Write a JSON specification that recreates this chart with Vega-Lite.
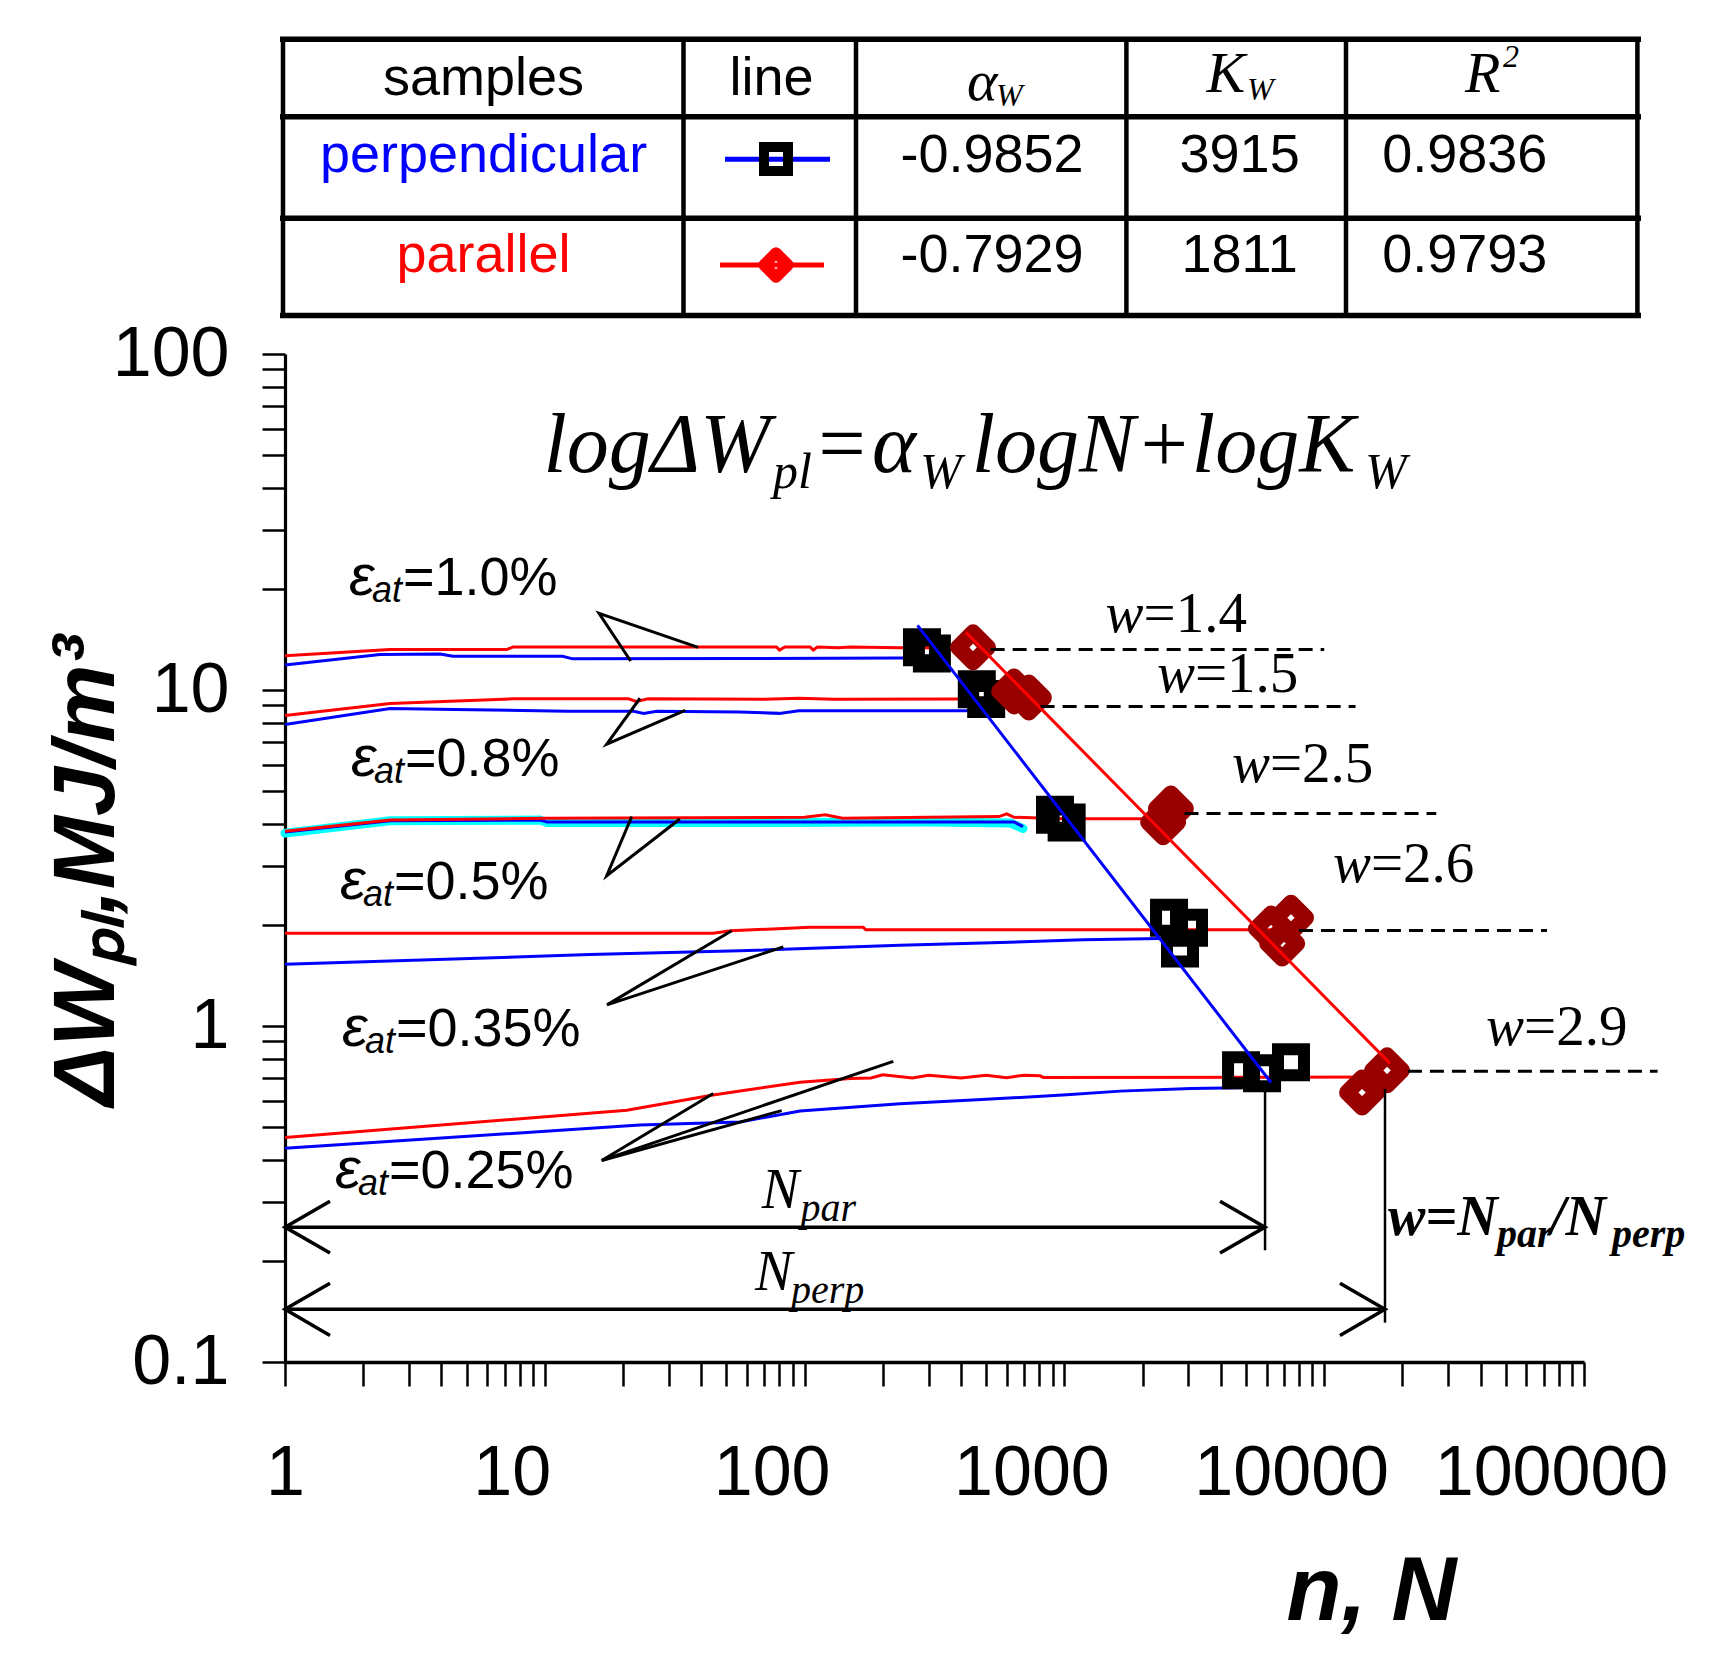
{
"$schema": "https://vega.github.io/schema/vega-lite/v6.json",
"width": 1299,
"height": 1008,
"autosize": {"type": "none"},
"padding": {"left": 285, "top": 354, "right": 129, "bottom": 291},
"background": "white",
"config": {"view": {"stroke": null}},
"datasets": {
"curves": [
{"id":"r10","s":"par","n":1,"W":12.64},{"id":"r10","s":"par","n":2.54,"W":13.19},{"id":"r10","s":"par","n":7.13,"W":13.19},{"id":"r10","s":"par","n":7.55,"W":13.43},{"id":"r10","s":"par","n":78,"W":13.43},{"id":"r10","s":"par","n":80,"W":13.15},{"id":"r10","s":"par","n":84,"W":13.43},{"id":"r10","s":"par","n":105,"W":13.43},{"id":"r10","s":"par","n":108,"W":13.15},{"id":"r10","s":"par","n":112,"W":13.43},{"id":"r10","s":"par","n":135,"W":13.35},{"id":"r10","s":"par","n":150,"W":13.43},{"id":"r10","s":"par","n":233,"W":13.36},{"id":"r10","s":"par","n":430,"W":13.36},
{"id":"b10","s":"perp","n":1,"W":11.87},{"id":"b10","s":"perp","n":2.32,"W":12.75},{"id":"b10","s":"perp","n":3.95,"W":12.8},{"id":"b10","s":"perp","n":4.43,"W":12.6},{"id":"b10","s":"perp","n":11.7,"W":12.6},{"id":"b10","s":"perp","n":12.8,"W":12.38},{"id":"b10","s":"perp","n":56,"W":12.4},{"id":"b10","s":"perp","n":233,"W":12.45},{"id":"b10","s":"perp","n":275,"W":12.45},
{"id":"r08","s":"par","n":1,"W":8.4},{"id":"r08","s":"par","n":2.54,"W":9.12},{"id":"r08","s":"par","n":7.55,"W":9.41},{"id":"r08","s":"par","n":21,"W":9.41},{"id":"r08","s":"par","n":22.5,"W":9.25},{"id":"r08","s":"par","n":25,"W":9.41},{"id":"r08","s":"par","n":70,"W":9.38},{"id":"r08","s":"par","n":95,"W":9.45},{"id":"r08","s":"par","n":130,"W":9.38},{"id":"r08","s":"par","n":386,"W":9.4},{"id":"r08","s":"par","n":650,"W":9.4},
{"id":"b08","s":"perp","n":1,"W":7.89},{"id":"b08","s":"perp","n":2.54,"W":8.81},{"id":"b08","s":"perp","n":4.5,"W":8.75},{"id":"b08","s":"perp","n":12.2,"W":8.65},{"id":"b08","s":"perp","n":22,"W":8.65},{"id":"b08","s":"perp","n":24,"W":8.52},{"id":"b08","s":"perp","n":27,"W":8.65},{"id":"b08","s":"perp","n":56,"W":8.6},{"id":"b08","s":"perp","n":80,"W":8.52},{"id":"b08","s":"perp","n":95,"W":8.68},{"id":"b08","s":"perp","n":407,"W":8.68},{"id":"b08","s":"perp","n":460,"W":8.68},
{"id":"c05","s":"cyan","n":1,"W":3.75},{"id":"c05","s":"cyan","n":2.54,"W":4.08},{"id":"c05","s":"cyan","n":9.58,"W":4.1},{"id":"c05","s":"cyan","n":10.2,"W":4.03},{"id":"c05","s":"cyan","n":56,"W":4.03},{"id":"c05","s":"cyan","n":300,"W":4.05},{"id":"c05","s":"cyan","n":620,"W":4.02},{"id":"c05","s":"cyan","n":693,"W":3.87},
{"id":"b05","s":"perp","n":1,"W":3.78},{"id":"b05","s":"perp","n":2.54,"W":4.08},{"id":"b05","s":"perp","n":9.58,"W":4.1},{"id":"b05","s":"perp","n":10.2,"W":4.05},{"id":"b05","s":"perp","n":640,"W":4.05},{"id":"b05","s":"perp","n":693,"W":3.92},
{"id":"r05","s":"par","n":1,"W":3.8},{"id":"r05","s":"par","n":2.54,"W":4.1},{"id":"r05","s":"par","n":10,"W":4.15},{"id":"r05","s":"par","n":100,"W":4.18},{"id":"r05","s":"par","n":120,"W":4.25},{"id":"r05","s":"par","n":140,"W":4.15},{"id":"r05","s":"par","n":300,"W":4.18},{"id":"r05","s":"par","n":560,"W":4.2},{"id":"r05","s":"par","n":600,"W":4.28},{"id":"r05","s":"par","n":640,"W":4.18},{"id":"r05","s":"par","n":1000,"W":4.14},{"id":"r05","s":"par","n":2450,"W":4.14},
{"id":"r035","s":"par","n":1,"W":1.887},{"id":"r035","s":"par","n":44.4,"W":1.887},{"id":"r035","s":"par","n":52,"W":1.92},{"id":"r035","s":"par","n":105,"W":1.966},{"id":"r035","s":"par","n":168,"W":1.966},{"id":"r035","s":"par","n":172,"W":1.935},{"id":"r035","s":"par","n":6300,"W":1.935},
{"id":"b035","s":"perp","n":1,"W":1.527},{"id":"b035","s":"perp","n":14.9,"W":1.631},{"id":"b035","s":"perp","n":56.4,"W":1.675},{"id":"b035","s":"perp","n":233,"W":1.738},{"id":"b035","s":"perp","n":526,"W":1.769},{"id":"b035","s":"perp","n":1180,"W":1.806},{"id":"b035","s":"perp","n":2350,"W":1.82},
{"id":"r025","s":"par","n":1,"W":0.466},{"id":"r025","s":"par","n":20.7,"W":0.561},{"id":"r025","s":"par","n":44.4,"W":0.623},{"id":"r025","s":"par","n":96,"W":0.68},{"id":"r025","s":"par","n":150,"W":0.698},{"id":"r025","s":"par","n":180,"W":0.7},{"id":"r025","s":"par","n":200,"W":0.716},{"id":"r025","s":"par","n":260,"W":0.7},{"id":"r025","s":"par","n":300,"W":0.714},{"id":"r025","s":"par","n":400,"W":0.7},{"id":"r025","s":"par","n":500,"W":0.713},{"id":"r025","s":"par","n":600,"W":0.702},{"id":"r025","s":"par","n":700,"W":0.714},{"id":"r025","s":"par","n":805,"W":0.711},{"id":"r025","s":"par","n":830,"W":0.703},{"id":"r025","s":"par","n":17000,"W":0.705},
{"id":"b025","s":"perp","n":1,"W":0.433},{"id":"b025","s":"perp","n":23.2,"W":0.507},{"id":"b025","s":"perp","n":56.4,"W":0.518},{"id":"b025","s":"perp","n":96,"W":0.5585},{"id":"b025","s":"perp","n":233,"W":0.587},{"id":"b025","s":"perp","n":461,"W":0.603},{"id":"b025","s":"perp","n":1023,"W":0.624},{"id":"b025","s":"perp","n":1637,"W":0.64},{"id":"b025","s":"perp","n":3070,"W":0.652},{"id":"b025","s":"perp","n":4800,"W":0.655}
],
"pts": [
{"s":"perp","n":283,"W":13.4},{"s":"perp","n":309,"W":12.85},{"s":"perp","n":460,"W":10.05},{"s":"perp","n":500,"W":9.4},{"s":"perp","n":920,"W":4.25},{"s":"perp","n":1020,"W":4.03},{"s":"perp","n":2528,"W":2.1},{"s":"perp","n":3017,"W":1.96},{"s":"perp","n":2786,"W":1.7},{"s":"perp","n":4786,"W":0.738},{"s":"perp","n":5765,"W":0.723},{"s":"perp","n":7450,"W":0.78},
{"s":"par","n":445,"W":13.4},{"s":"par","n":640,"W":9.9},{"s":"par","n":730,"W":9.5},{"s":"par","n":2570,"W":4.44},{"s":"par","n":2399,"W":4.04},{"s":"par","n":7450,"W":2.1},{"s":"par","n":6240,"W":1.95},{"s":"par","n":6890,"W":1.76},{"s":"par","n":17460,"W":0.738},{"s":"par","n":13990,"W":0.634}
],
"fits": [
{"s":"perp","n":272,"W":15.57},{"s":"perp","n":6240,"W":0.679},
{"s":"par","n":418,"W":14.84},{"s":"par","n":17910,"W":0.774}
],
"wlines": [
{"n":520,"n2":10000,"W":13.2},{"n":810,"n2":13200,"W":8.93},{"n":2900,"n2":27000,"W":4.29},{"n":8000,"n2":72000,"W":1.925},{"n":21000,"n2":192000,"W":0.734}
],
"wlabels": [
{"t":"=1.4","n":1440,"W":14.9},{"t":"=1.5","n":2271,"W":9.84},{"t":"=2.5","n":4416,"W":5.31},{"t":"=2.6","n":10800,"W":2.68},{"t":"=2.9","n":42000,"W":0.88}
],
"leaders": [
{"id":"L10","o":1,"n":21.4,"W":12.2},{"id":"L10","o":2,"n":16.17,"W":16.9},{"id":"L10","o":3,"n":38.9,"W":13.39},
{"id":"L08","o":1,"n":23.25,"W":9.45},{"id":"L08","o":2,"n":17.31,"W":6.9},{"id":"L08","o":3,"n":34.7,"W":8.7},
{"id":"L05","o":1,"n":21.6,"W":4.2},{"id":"L05","o":2,"n":17.31,"W":2.8},{"id":"L05","o":3,"n":33.1,"W":4.13},
{"id":"L035","o":1,"n":52.4,"W":1.92},{"id":"L035","o":2,"n":17.35,"W":1.156},{"id":"L035","o":3,"n":82.8,"W":1.72},
{"id":"L025a","o":1,"n":44.5,"W":0.63},{"id":"L025a","o":2,"n":16.56,"W":0.398},{"id":"L025a","o":3,"n":81.6,"W":0.56},
{"id":"L025b","o":1,"n":16.56,"W":0.398},{"id":"L025b","o":2,"n":219.5,"W":0.785}
],
"arrows": [
{"id":"A1","o":1,"n":1,"W":0.252},{"id":"A1","o":2,"n":5920,"W":0.252},
{"id":"A2","o":1,"n":1.49,"W":0.301},{"id":"A2","o":2,"n":1,"W":0.252},{"id":"A2","o":3,"n":1.49,"W":0.211},
{"id":"A3","o":1,"n":3973,"W":0.301},{"id":"A3","o":2,"n":5920,"W":0.252},{"id":"A3","o":3,"n":3973,"W":0.211},
{"id":"B1","o":1,"n":1,"W":0.1435},{"id":"B1","o":2,"n":17140,"W":0.1435},
{"id":"B2","o":1,"n":1.49,"W":0.1715},{"id":"B2","o":2,"n":1,"W":0.1435},{"id":"B2","o":3,"n":1.49,"W":0.12},
{"id":"B3","o":1,"n":11500,"W":0.1715},{"id":"B3","o":2,"n":17140,"W":0.1435},{"id":"B3","o":3,"n":11500,"W":0.12}
],
"vguides": [
{"id":"V1","o":1,"n":5920,"W":0.66},{"id":"V1","o":2,"n":5920,"W":0.215},
{"id":"V2","o":1,"n":17140,"W":0.65},{"id":"V2","o":2,"n":17140,"W":0.131}
],
"eps": [
{"t":"=1.0%","n":1.763,"W":19.12},{"t":"=0.8%","n":1.795,"W":5.53},{"t":"=0.5%","n":1.628,"W":2.381},{"t":"=0.35%","n":1.657,"W":0.87},{"t":"=0.25%","n":1.557,"W":0.3287}
],
"formula": [
{"t":"logΔW","role":"main","n":9.885,"W":44.4},{"t":"pl","role":"sub","n":75.5,"W":44.4},{"t":"=","role":"main","n":107.7,"W":44.4},{"t":"α","role":"main","n":181.7,"W":44.4},{"t":"W","role":"sub","n":278,"W":44.4},{"t":"logN+logK","role":"main","n":440,"W":44.4},{"t":"W","role":"sub","n":14350,"W":44.4}
],
"nlab": [
{"t":"N","role":"main","n":68.4,"W":0.2865},{"t":"par","role":"sub","n":96.5,"W":0.2865},
{"t":"N","role":"main","n":64.4,"W":0.1633},{"t":"perp","role":"sub","n":88.6,"W":0.1633}
],
"wratio": [
{"t":"w=N","role":"main","n":17600,"W":0.238},{"t":"par","role":"sub","n":46240,"W":0.238},{"t":"/N","role":"main","n":73980,"W":0.238},{"t":"perp","role":"sub","n":128200,"W":0.238}
],
"thl": [
{"tx":0,"tx2":1361,"ty":2.3},{"tx":0,"tx2":1361,"ty":79.7},{"tx":0,"tx2":1361,"ty":181.3},{"tx":0,"tx2":1361,"ty":278.5}
],
"tvl": [
{"tx":3,"ty":0,"ty2":281},{"tx":403.5,"ty":0,"ty2":281},{"tx":576,"ty":0,"ty2":281},{"tx":846.4,"ty":0,"ty2":281},{"tx":1066,"ty":0,"ty2":281},{"tx":1357.4,"ty":0,"ty2":281}
],
"thead": [
{"t":"samples","tx":203.5,"ty":58},{"t":"line","tx":491.5,"ty":58}
],
"tsym": [
{"t":"α","role":"main","tx":687,"ty":63},{"t":"K","role":"main","tx":926.6,"ty":54.7},{"t":"R","role":"main","tx":1185,"ty":54.7},
{"t":"W","role":"sub","tx":716,"ty":69},{"t":"W","role":"sub","tx":967,"ty":63},
{"t":"2","role":"sup","tx":1223,"ty":29.7}
],
"tcells": [
{"t":"perpendicular","s":"perp","tx":203.5,"ty":134.7},{"t":"-0.9852","s":"num","tx":712,"ty":134.7},{"t":"3915","s":"num","tx":959.6,"ty":134.7},{"t":"0.9836","s":"num","tx":1184.8,"ty":134.7},
{"t":"parallel","s":"par","tx":203.5,"ty":234.7},{"t":"-0.7929","s":"num","tx":712,"ty":234.7},{"t":"1811","s":"num","tx":959.6,"ty":234.7},{"t":"0.9793","s":"num","tx":1184.8,"ty":234.7}
],
"tline": [
{"s":"perp","tx":445,"ty":122.3},{"s":"perp","tx":550,"ty":122.3},{"s":"par","tx":440,"ty":228},{"s":"par","tx":544,"ty":228}
],
"tmark": [
{"s":"perp","tx":496,"ty":122},{"s":"par","tx":496,"ty":228}
]
},
"layer": [
{
"data": {"name": "curves"},
"transform": [{"filter": "datum.s == 'cyan'"}],
"mark": {"type": "line", "color": "#00ffff", "strokeWidth": 9, "strokeCap": "round"},
"encoding": {
"x": {"field": "n", "type": "quantitative",
"scale": {"type": "log", "domain": [1, 100000], "nice": false},
"axis": {
"values": [1,2,3,4,5,6,7,8,9,10,20,30,40,50,60,70,80,90,100,200,300,400,500,600,700,800,900,1000,2000,3000,4000,5000,6000,7000,8000,9000,10000,20000,30000,40000,50000,60000,70000,80000,90000,100000],
"format": "d",
"labelExpr": "indexof([1,10,100,1000,10000,100000], datum.value) >= 0 ? datum.label : ''",
"labelOverlap": false, "labelFlush": false, "labelBound": false, "labelLimit": 0,
"labelFont": "Liberation Sans", "labelFontSize": 70, "labelColor": "#000000",
"labelBaseline": "alphabetic", "labelPadding": 108,
"labelOffset": {"condition": {"test": "datum.value == 1", "value": 0}, "value": -33},
"tickSize": 24, "tickWidth": 2.5, "tickColor": "#000000",
"domainColor": "#000000", "domainWidth": 3.5, "grid": false,
"title": "n, N", "titleFont": "Liberation Sans", "titleFontSize": 90, "titleFontStyle": "italic", "titleFontWeight": "bold", "titleColor": "#000000",
"titleX": 1086, "titleY": 257, "titleBaseline": "alphabetic", "titleAlign": "center", "titleLimit": 0
}},
"y": {"field": "W", "type": "quantitative",
"scale": {"type": "log", "domain": [0.1, 100], "nice": false},
"axis": {
"values": [0.1,0.2,0.3,0.4,0.5,0.6,0.7,0.8,0.9,1,2,3,4,5,6,7,8,9,10,20,30,40,50,60,70,80,90,100],
"format": "~g",
"labelExpr": "indexof([0.1,1,10,100], datum.value) >= 0 ? datum.label : ''",
"labelOverlap": false, "labelFlush": false, "labelBound": false, "labelLimit": 0,
"labelFont": "Liberation Sans", "labelFontSize": 70, "labelColor": "#000000",
"labelPadding": 33,
"tickSize": 23, "tickWidth": 2.5, "tickColor": "#000000",
"domainColor": "#000000", "domainWidth": 3.2, "grid": false,
"title": "ΔWₚₗ,MJ/m³", "titleFont": "Liberation Sans", "titleFontSize": 88, "titleFontStyle": "italic", "titleFontWeight": "bold", "titleColor": "#000000",
"titleX": -172, "titleY": 516, "titleAngle": 270, "titleBaseline": "alphabetic", "titleAlign": "center", "titleLimit": 0
}},
"detail": {"field": "id"}
}
},
{
"data": {"name": "curves"},
"transform": [{"filter": "datum.s == 'perp'"}],
"mark": {"type": "line", "color": "#0000ff", "strokeWidth": 3},
"encoding": {
"x": {"field": "n", "type": "quantitative", "scale": {"type": "log", "domain": [1, 100000], "nice": false}, "axis": null},
"y": {"field": "W", "type": "quantitative", "scale": {"type": "log", "domain": [0.1, 100], "nice": false}, "axis": null},
"detail": {"field": "id"}
}
},
{
"data": {"name": "curves"},
"transform": [{"filter": "datum.s == 'par'"}],
"mark": {"type": "line", "color": "#ff0000", "strokeWidth": 3},
"encoding": {
"x": {"field": "n", "type": "quantitative", "scale": {"type": "log", "domain": [1, 100000], "nice": false}, "axis": null},
"y": {"field": "W", "type": "quantitative", "scale": {"type": "log", "domain": [0.1, 100], "nice": false}, "axis": null},
"detail": {"field": "id"}
}
},
{
"data": {"name": "pts"},
"transform": [{"filter": "datum.s == 'perp'"}],
"mark": {"type": "point", "shape": "square", "size": 676, "filled": false, "color": "#000000", "strokeWidth": 12, "opacity": 1},
"encoding": {
"x": {"field": "n", "type": "quantitative", "scale": {"type": "log", "domain": [1, 100000], "nice": false}, "axis": null},
"y": {"field": "W", "type": "quantitative", "scale": {"type": "log", "domain": [0.1, 100], "nice": false}, "axis": null}
}
},
{
"data": {"name": "pts"},
"transform": [{"filter": "datum.s == 'par'"}],
"mark": {"type": "point", "shape": "diamond", "size": 900, "filled": false, "color": "#990000", "strokeWidth": 16, "strokeJoin": "round", "opacity": 1},
"encoding": {
"x": {"field": "n", "type": "quantitative", "scale": {"type": "log", "domain": [1, 100000], "nice": false}, "axis": null},
"y": {"field": "W", "type": "quantitative", "scale": {"type": "log", "domain": [0.1, 100], "nice": false}, "axis": null}
}
},
{
"data": {"name": "fits"},
"transform": [{"filter": "datum.s == 'perp'"}],
"mark": {"type": "line", "color": "#0000ff", "strokeWidth": 3},
"encoding": {
"x": {"field": "n", "type": "quantitative", "scale": {"type": "log", "domain": [1, 100000], "nice": false}, "axis": null},
"y": {"field": "W", "type": "quantitative", "scale": {"type": "log", "domain": [0.1, 100], "nice": false}, "axis": null}
}
},
{
"data": {"name": "fits"},
"transform": [{"filter": "datum.s == 'par'"}],
"mark": {"type": "line", "color": "#ff0000", "strokeWidth": 3},
"encoding": {
"x": {"field": "n", "type": "quantitative", "scale": {"type": "log", "domain": [1, 100000], "nice": false}, "axis": null},
"y": {"field": "W", "type": "quantitative", "scale": {"type": "log", "domain": [0.1, 100], "nice": false}, "axis": null}
}
},
{
"data": {"name": "wlines"},
"mark": {"type": "rule", "color": "#000000", "strokeWidth": 3, "strokeDash": [14, 8]},
"encoding": {
"x": {"field": "n", "type": "quantitative", "scale": {"type": "log", "domain": [1, 100000], "nice": false}, "axis": null},
"x2": {"field": "n2"},
"y": {"field": "W", "type": "quantitative", "scale": {"type": "log", "domain": [0.1, 100], "nice": false}, "axis": null}
}
},
{
"data": {"name": "leaders"},
"mark": {"type": "line", "color": "#000000", "strokeWidth": 3},
"encoding": {
"x": {"field": "n", "type": "quantitative", "scale": {"type": "log", "domain": [1, 100000], "nice": false}, "axis": null},
"y": {"field": "W", "type": "quantitative", "scale": {"type": "log", "domain": [0.1, 100], "nice": false}, "axis": null},
"detail": {"field": "id"},
"order": {"field": "o"}
}
},
{
"data": {"name": "arrows"},
"mark": {"type": "line", "color": "#000000", "strokeWidth": 3.5},
"encoding": {
"x": {"field": "n", "type": "quantitative", "scale": {"type": "log", "domain": [1, 100000], "nice": false}, "axis": null},
"y": {"field": "W", "type": "quantitative", "scale": {"type": "log", "domain": [0.1, 100], "nice": false}, "axis": null},
"detail": {"field": "id"},
"order": {"field": "o"}
}
},
{
"data": {"name": "vguides"},
"mark": {"type": "line", "color": "#000000", "strokeWidth": 2.5},
"encoding": {
"x": {"field": "n", "type": "quantitative", "scale": {"type": "log", "domain": [1, 100000], "nice": false}, "axis": null},
"y": {"field": "W", "type": "quantitative", "scale": {"type": "log", "domain": [0.1, 100], "nice": false}, "axis": null},
"detail": {"field": "id"},
"order": {"field": "o"}
}
},
{
"data": {"name": "wlabels"},
"mark": {"type": "text", "text": "w", "font": "Liberation Serif", "fontStyle": "italic", "fontSize": 57, "align": "left", "baseline": "alphabetic", "color": "#000000"},
"encoding": {
"x": {"field": "n", "type": "quantitative", "scale": {"type": "log", "domain": [1, 100000], "nice": false}, "axis": null},
"y": {"field": "W", "type": "quantitative", "scale": {"type": "log", "domain": [0.1, 100], "nice": false}, "axis": null}
}
},
{
"data": {"name": "wlabels"},
"mark": {"type": "text", "font": "Liberation Serif", "fontSize": 57, "align": "left", "baseline": "alphabetic", "dx": 38, "color": "#000000"},
"encoding": {
"x": {"field": "n", "type": "quantitative", "scale": {"type": "log", "domain": [1, 100000], "nice": false}, "axis": null},
"y": {"field": "W", "type": "quantitative", "scale": {"type": "log", "domain": [0.1, 100], "nice": false}, "axis": null},
"text": {"field": "t"}
}
},
{
"data": {"name": "eps"},
"mark": {"type": "text", "text": "ε", "font": "Liberation Sans", "fontStyle": "italic", "fontSize": 58, "align": "left", "baseline": "alphabetic", "color": "#000000"},
"encoding": {
"x": {"field": "n", "type": "quantitative", "scale": {"type": "log", "domain": [1, 100000], "nice": false}, "axis": null},
"y": {"field": "W", "type": "quantitative", "scale": {"type": "log", "domain": [0.1, 100], "nice": false}, "axis": null}
}
},
{
"data": {"name": "eps"},
"mark": {"type": "text", "text": "at", "font": "Liberation Sans", "fontStyle": "italic", "fontSize": 36, "align": "left", "baseline": "alphabetic", "dx": 23, "dy": 7, "color": "#000000"},
"encoding": {
"x": {"field": "n", "type": "quantitative", "scale": {"type": "log", "domain": [1, 100000], "nice": false}, "axis": null},
"y": {"field": "W", "type": "quantitative", "scale": {"type": "log", "domain": [0.1, 100], "nice": false}, "axis": null}
}
},
{
"data": {"name": "eps"},
"mark": {"type": "text", "font": "Liberation Sans", "fontSize": 54, "align": "left", "baseline": "alphabetic", "dx": 54, "color": "#000000"},
"encoding": {
"x": {"field": "n", "type": "quantitative", "scale": {"type": "log", "domain": [1, 100000], "nice": false}, "axis": null},
"y": {"field": "W", "type": "quantitative", "scale": {"type": "log", "domain": [0.1, 100], "nice": false}, "axis": null},
"text": {"field": "t"}
}
},
{
"data": {"name": "formula"},
"transform": [{"filter": "datum.role == 'main'"}],
"mark": {"type": "text", "font": "Liberation Serif", "fontStyle": "italic", "fontSize": 84, "align": "left", "baseline": "alphabetic", "color": "#000000"},
"encoding": {
"x": {"field": "n", "type": "quantitative", "scale": {"type": "log", "domain": [1, 100000], "nice": false}, "axis": null},
"y": {"field": "W", "type": "quantitative", "scale": {"type": "log", "domain": [0.1, 100], "nice": false}, "axis": null},
"text": {"field": "t"}
}
},
{
"data": {"name": "formula"},
"transform": [{"filter": "datum.role == 'sub'"}],
"mark": {"type": "text", "font": "Liberation Serif", "fontStyle": "italic", "fontSize": 50, "align": "left", "baseline": "alphabetic", "dy": 16, "color": "#000000"},
"encoding": {
"x": {"field": "n", "type": "quantitative", "scale": {"type": "log", "domain": [1, 100000], "nice": false}, "axis": null},
"y": {"field": "W", "type": "quantitative", "scale": {"type": "log", "domain": [0.1, 100], "nice": false}, "axis": null},
"text": {"field": "t"}
}
},
{
"data": {"name": "nlab"},
"transform": [{"filter": "datum.role == 'main'"}],
"mark": {"type": "text", "font": "Liberation Serif", "fontStyle": "italic", "fontSize": 56, "align": "left", "baseline": "alphabetic", "color": "#000000"},
"encoding": {
"x": {"field": "n", "type": "quantitative", "scale": {"type": "log", "domain": [1, 100000], "nice": false}, "axis": null},
"y": {"field": "W", "type": "quantitative", "scale": {"type": "log", "domain": [0.1, 100], "nice": false}, "axis": null},
"text": {"field": "t"}
}
},
{
"data": {"name": "nlab"},
"transform": [{"filter": "datum.role == 'sub'"}],
"mark": {"type": "text", "font": "Liberation Serif", "fontStyle": "italic", "fontSize": 40, "align": "left", "baseline": "alphabetic", "dy": 13, "color": "#000000"},
"encoding": {
"x": {"field": "n", "type": "quantitative", "scale": {"type": "log", "domain": [1, 100000], "nice": false}, "axis": null},
"y": {"field": "W", "type": "quantitative", "scale": {"type": "log", "domain": [0.1, 100], "nice": false}, "axis": null},
"text": {"field": "t"}
}
},
{
"data": {"name": "wratio"},
"transform": [{"filter": "datum.role == 'main'"}],
"mark": {"type": "text", "font": "Liberation Serif", "fontStyle": "italic", "fontWeight": "bold", "fontSize": 56, "align": "left", "baseline": "alphabetic", "color": "#000000"},
"encoding": {
"x": {"field": "n", "type": "quantitative", "scale": {"type": "log", "domain": [1, 100000], "nice": false}, "axis": null},
"y": {"field": "W", "type": "quantitative", "scale": {"type": "log", "domain": [0.1, 100], "nice": false}, "axis": null},
"text": {"field": "t"}
}
},
{
"data": {"name": "wratio"},
"transform": [{"filter": "datum.role == 'sub'"}],
"mark": {"type": "text", "font": "Liberation Serif", "fontStyle": "italic", "fontWeight": "bold", "fontSize": 40, "align": "left", "baseline": "alphabetic", "dy": 12, "color": "#000000"},
"encoding": {
"x": {"field": "n", "type": "quantitative", "scale": {"type": "log", "domain": [1, 100000], "nice": false}, "axis": null},
"y": {"field": "W", "type": "quantitative", "scale": {"type": "log", "domain": [0.1, 100], "nice": false}, "axis": null},
"text": {"field": "t"}
}
},
{
"data": {"name": "thl"},
"mark": {"type": "rule", "color": "#000000", "strokeWidth": 5.5},
"encoding": {
"x": {"field": "tx", "type": "quantitative", "scale": {"domain": [5, 1304], "nice": false, "zero": false}, "axis": null},
"x2": {"field": "tx2"},
"y": {"field": "ty", "type": "quantitative", "scale": {"domain": [317, 1325], "nice": false, "zero": false, "reverse": true}, "axis": null}
}
},
{
"data": {"name": "tvl"},
"mark": {"type": "rule", "color": "#000000", "strokeWidth": 4.5},
"encoding": {
"x": {"field": "tx", "type": "quantitative", "scale": {"domain": [5, 1304], "nice": false, "zero": false}, "axis": null},
"y": {"field": "ty", "type": "quantitative", "scale": {"domain": [317, 1325], "nice": false, "zero": false, "reverse": true}, "axis": null},
"y2": {"field": "ty2"}
}
},
{
"data": {"name": "thead"},
"mark": {"type": "text", "font": "Liberation Sans", "fontSize": 54, "align": "center", "baseline": "alphabetic", "color": "#000000"},
"encoding": {
"x": {"field": "tx", "type": "quantitative", "scale": {"domain": [5, 1304], "nice": false, "zero": false}, "axis": null},
"y": {"field": "ty", "type": "quantitative", "scale": {"domain": [317, 1325], "nice": false, "zero": false, "reverse": true}, "axis": null},
"text": {"field": "t"}
}
},
{
"data": {"name": "tsym"},
"transform": [{"filter": "datum.role == 'main'"}],
"mark": {"type": "text", "font": "Liberation Serif", "fontStyle": "italic", "fontSize": 58, "align": "left", "baseline": "alphabetic", "color": "#000000"},
"encoding": {
"x": {"field": "tx", "type": "quantitative", "scale": {"domain": [5, 1304], "nice": false, "zero": false}, "axis": null},
"y": {"field": "ty", "type": "quantitative", "scale": {"domain": [317, 1325], "nice": false, "zero": false, "reverse": true}, "axis": null},
"text": {"field": "t"}
}
},
{
"data": {"name": "tsym"},
"transform": [{"filter": "datum.role != 'main'"}],
"mark": {"type": "text", "font": "Liberation Serif", "fontStyle": "italic", "fontSize": 32, "align": "left", "baseline": "alphabetic", "color": "#000000"},
"encoding": {
"x": {"field": "tx", "type": "quantitative", "scale": {"domain": [5, 1304], "nice": false, "zero": false}, "axis": null},
"y": {"field": "ty", "type": "quantitative", "scale": {"domain": [317, 1325], "nice": false, "zero": false, "reverse": true}, "axis": null},
"text": {"field": "t"}
}
},
{
"data": {"name": "tcells"},
"mark": {"type": "text", "font": "Liberation Sans", "fontSize": 54, "align": "center", "baseline": "alphabetic"},
"encoding": {
"x": {"field": "tx", "type": "quantitative", "scale": {"domain": [5, 1304], "nice": false, "zero": false}, "axis": null},
"y": {"field": "ty", "type": "quantitative", "scale": {"domain": [317, 1325], "nice": false, "zero": false, "reverse": true}, "axis": null},
"text": {"field": "t"},
"color": {"field": "s", "type": "nominal", "scale": {"domain": ["perp", "par", "num"], "range": ["#0000ff", "#ff0000", "#000000"]}, "legend": null}
}
},
{
"data": {"name": "tline"},
"mark": {"type": "line", "strokeWidth": 5},
"encoding": {
"x": {"field": "tx", "type": "quantitative", "scale": {"domain": [5, 1304], "nice": false, "zero": false}, "axis": null},
"y": {"field": "ty", "type": "quantitative", "scale": {"domain": [317, 1325], "nice": false, "zero": false, "reverse": true}, "axis": null},
"detail": {"field": "s"},
"color": {"field": "s", "type": "nominal", "legend": null}
}
},
{
"data": {"name": "tmark"},
"transform": [{"filter": "datum.s == 'perp'"}],
"mark": {"type": "point", "shape": "square", "size": 576, "filled": false, "color": "#000000", "strokeWidth": 10, "opacity": 1},
"encoding": {
"x": {"field": "tx", "type": "quantitative", "scale": {"domain": [5, 1304], "nice": false, "zero": false}, "axis": null},
"y": {"field": "ty", "type": "quantitative", "scale": {"domain": [317, 1325], "nice": false, "zero": false, "reverse": true}, "axis": null}
}
},
{
"data": {"name": "tmark"},
"transform": [{"filter": "datum.s == 'par'"}],
"mark": {"type": "point", "shape": "diamond", "size": 600, "filled": false, "color": "#ff0000", "strokeWidth": 11, "strokeJoin": "round", "opacity": 1},
"encoding": {
"x": {"field": "tx", "type": "quantitative", "scale": {"domain": [5, 1304], "nice": false, "zero": false}, "axis": null},
"y": {"field": "ty", "type": "quantitative", "scale": {"domain": [317, 1325], "nice": false, "zero": false, "reverse": true}, "axis": null}
}
}
],
"resolve": {"scale": {"x": "independent", "y": "independent"}}
}
